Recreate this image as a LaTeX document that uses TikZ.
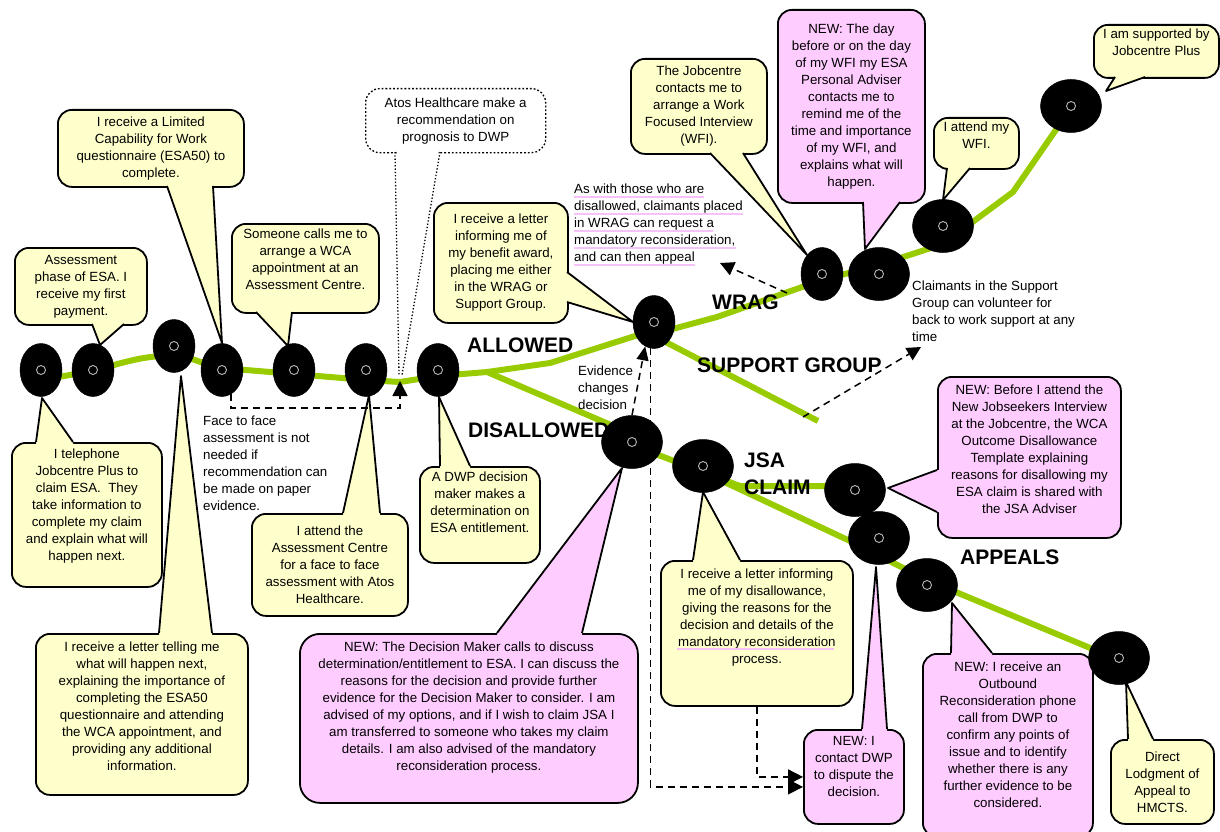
\documentclass[tikz,border=0pt]{standalone}
\usepackage{fontspec}
\setmainfont{Liberation Sans}
\usetikzlibrary{shapes.geometric,arrows.meta,calc}
\definecolor{cyel}{HTML}{FFFFCC}
\definecolor{cpink}{HTML}{FFCCFF}
\definecolor{cgreen}{HTML}{99CC00}
\definecolor{cul}{HTML}{F7C2F7}
\newcommand\vfix[1]{\\[#1pt]\mbox{}}
\newcommand\ptr[5]{%
  \fill[#1] ($#2+#5$) -- #2 -- #3 -- #4 -- ($#4+#5$) -- cycle;
  \draw[bord] #2 -- #3 -- #4;}
\tikzset{
  every node/.append style={font=\fontsize{13.3}{17}\selectfont},
  bord/.style={draw=black,line width=1.8pt,line join=round},
  cbox/.style={bord,rounded corners=14pt,align=center,inner sep=0pt,anchor=north west},
  ybox/.style={cbox,fill=cyel},
  pbox/.style={cbox,fill=cpink},
  dot/.style={ellipse,fill=black,draw=black,line width=0.5pt,minimum width=42pt,minimum height=53pt,inner sep=0pt},
  wdot/.style={dot,minimum width=61pt},
  ring/.style={draw=gray!55,line width=0.9pt},
  lane/.style={draw=cgreen,line width=6pt,line join=round},
  lab/.style={font=\fontsize{21}{24}\selectfont\bfseries,inner sep=0pt,anchor=west},
  note/.style={align=left,inner sep=0pt,anchor=north west},
  conn/.style={line width=1.5pt,dash pattern=on 7pt off 5pt,-{Triangle[length=15pt,width=15pt]}},
  uline/.style={draw=cul,line width=2pt}
}
\begin{document}
\begin{tikzpicture}[x=1pt,y=-1pt]
\useasboundingbox (0,0) rectangle (1220,832);

% ---- green lanes
\draw[lane] (41,380) -- (93,371) .. controls (130,360) and (150,355) .. (174,356)
  .. controls (195,357) and (205,366) .. (222,368) -- (294,374) -- (366,380) -- (400,382)
  -- (438,376) -- (487,372) -- (550,363) -- (654,330);
\draw[lane] (654,334) -- (717,317) -- (822,280) -- (879,265) -- (943,244) -- (1013,192) -- (1071,108);
\draw[lane] (654,336) -- (818,421);
\draw[lane] (487,372) -- (625,431) -- (640,448) -- (703,472);
\draw[lane] (703,472) -- (740,486) -- (855,486);
\draw[lane] (703,472) -- (850,541) -- (927,580) -- (1119,660);

% ---- stage labels
\node[lab] (lAllowed) at (467,345) {ALLOWED};
\node[lab] (lDis) at (468,430) {DISALLOWED};
\node[lab] (lWrag) at (712,302) {WRAG};
\node[lab] (lSup) at (697,365) {SUPPORT GROUP};
\node[lab] (lJsa) at (744,460) {JSA};
\node[lab] (lClaim) at (744,487) {CLAIM};
\node[lab] (lApp) at (960,557) {APPEALS};

% ---- free notes
\node[note] (nFace) at (203,416) {Face to face\\assessment is not\\needed if\\recommendation can\\be made on paper\\evidence.};
\draw[uline] (574,197) -- (704,197);
\draw[uline] (574,214) -- (743,214);
\draw[uline] (574,231) -- (713,231);
\draw[uline] (574,248) -- (736,248);
\draw[uline] (574,265) -- (695,265);
\node[note] (nWrag) at (574,184) {As with those who are\\disallowed, claimants placed\\in WRAG can request a\\mandatory reconsideration,\\and can then appeal};
\node[note] (nEvid) at (578,366) {Evidence\\changes\\decision};
\node[note] (nSupp) at (912,281) {Claimants in the Support\\Group can volunteer for\\back to work support at any\\time};

% ---- callouts
\node[ybox,minimum width=132pt,minimum height=77pt] (c1) at (14,247) {Assessment\\phase of ESA. I\\receive my first\\payment.};
\ptr{cyel}{(92,324)}{(100,345)}{(124,324)}{(0,-3)}

\node[ybox,minimum width=186pt,minimum height=77pt] (c2) at (57,109) {I receive a Limited\\Capability for Work\\questionnaire (ESA50) to\\complete.};
\ptr{cyel}{(167,186)}{(222,343)}{(213,186)}{(0,-3)}

\node[ybox,minimum width=147pt,minimum height=89pt] (c3) at (231,223) {Someone calls me to\\arrange a WCA\\appointment at an\\Assessment Centre.\vfix{0.5}};
\ptr{cyel}{(256,312)}{(288,346)}{(292,312)}{(0,-3)}

\node[cbox,draw=black,dotted,line width=1.3pt,fill=white,minimum width=180pt,minimum height=64pt] (c4) at (365,88) {Atos Healthcare make a\\recommendation on\\prognosis to DWP};
\fill[white] (397,149) rectangle (438,156);
\draw[dotted,line width=1.3pt] (395,152) -- (399,375);
\draw[dotted,line width=1.3pt] (440,152) -- (402,375);

\node[ybox,minimum width=134pt,minimum height=120pt] (c5) at (433,202) {I receive a letter\\informing me of\\my benefit award,\\placing me either\\in the WRAG or\\Support Group.};
\ptr{cyel}{(567,272)}{(633,322)}{(567,302)}{(-3,0)}

\node[ybox,minimum width=136pt,minimum height=95pt] (c6) at (630,58) {The Jobcentre\\contacts me to\\arrange a Work\\Focused Interview\\(WFI).};
\ptr{cyel}{(710,153)}{(807,255)}{(743,153)}{(0,-3)}

\node[pbox,minimum width=147pt,minimum height=193pt] (c7) at (777,9) {NEW: The day\\before or on the day\\of my WFI my ESA\\Personal Adviser\\contacts me to\\remind me of the\\time and importance\\of my WFI, and\\explains what will\\happen.};
\ptr{cpink}{(863,202)}{(865,249)}{(900,202)}{(0,-3)}

\node[ybox,minimum width=85pt,minimum height=51pt] (c8) at (933,117) {I attend my\\WFI.\vfix{-1.5}};
\ptr{cyel}{(947,168)}{(943,200)}{(970,168)}{(0,-3)}

\node[ybox,minimum width=125pt,minimum height=53pt] (c9) at (1093,24) {I am supported by\\Jobcentre Plus\vfix{0.5}};
\ptr{cyel}{(1115,77)}{(1106,91)}{(1145,77)}{(0,-3)}

\node[ybox,minimum width=150pt,minimum height=144pt] (c10) at (11,442) {I telephone\\Jobcentre Plus to\\claim ESA.\ \ They\\take information to\\complete my claim\\and explain what will\\happen next.\vfix{2.5}};
\ptr{cyel}{(36,442)}{(42,398)}{(73,442)}{(0,3)}

\node[ybox,minimum width=212pt,minimum height=161pt] (c11) at (35,633) {I receive a letter telling me\\what will happen next,\\explaining the importance of\\completing the ESA50\\questionnaire and attending\\the WCA appointment, and\\providing any additional\\information.\vfix{-1.5}};
\ptr{cyel}{(159,633)}{(181,376)}{(212,633)}{(0,3)}

\node[ybox,minimum width=156pt,minimum height=102pt] (c12) at (251,513) {I attend the\\Assessment Centre\\for a face to face\\assessment with Atos\\Healthcare.};
\ptr{cyel}{(343,513)}{(369,395)}{(380,513)}{(0,3)}

\node[ybox,minimum width=120pt,minimum height=96pt] (c13) at (419,466) {A DWP decision\\maker makes a\\determination on\\ESA entitlement.\vfix{8.5}};
\ptr{cyel}{(440,466)}{(439,397)}{(470,466)}{(0,3)}

\node[pbox,rounded corners=20pt,minimum width=338pt,minimum height=169pt] (c14) at (299,633) {NEW: The Decision Maker calls to discuss\\determination/entitlement to ESA. I can discuss the\\reasons for the decision and provide further\\evidence for the Decision Maker to consider. I am\\advised of my options, and if I wish to claim JSA I\\am transferred to someone who takes my claim\\details. I am also advised of the mandatory\\reconsideration process.\vfix{6.5}};
\ptr{cpink}{(497,633)}{(622,468)}{(582,633)}{(0,3)}

\node[ybox,minimum width=192pt,minimum height=145pt] (c15) at (660,560) {I receive a letter informing\\me of my disallowance,\\giving the reasons for the\\decision and details of the\\mandatory reconsideration\\process.\vfix{16.5}};
\ptr{cyel}{(693,560)}{(703,492)}{(740,560)}{(0,3)}
\draw[uline] (677,649) -- (834,649);

\node[pbox,minimum width=183pt,minimum height=161pt] (c16) at (937,376) {NEW: Before I attend the\\New Jobseekers Interview\\at the Jobcentre, the WCA\\Outcome Disallowance\\Template explaining\\reasons for disallowing my\\ESA claim is shared with\\the JSA Adviser\vfix{-1.5}};
\ptr{cpink}{(937,470)}{(888,488)}{(937,512)}{(3,0)}

\node[pbox,minimum width=100pt,minimum height=94pt] (c17) at (803,729) {NEW: I\\contact DWP\\to dispute the\\decision.\vfix{4.5}};
\ptr{cpink}{(862,729)}{(876,567)}{(887,729)}{(0,3)}

\node[pbox,minimum width=170pt,minimum height=183pt] (c18) at (922,653) {NEW: I receive an\\Outbound\\Reconsideration phone\\call from DWP to\\confirm any points of\\issue and to identify\\whether there is any\\further evidence to be\\considered.\vfix{4.5}};
\ptr{cpink}{(951,653)}{(952,603)}{(992,653)}{(0,3)}

\node[ybox,minimum width=103pt,minimum height=84pt] (c19) at (1110,739) {Direct\\Lodgment of\\Appeal to\\HMCTS.};
\ptr{cyel}{(1128,739)}{(1126,682)}{(1153,739)}{(0,3)}

% ---- stage points
\node[dot] (e1) at (41,370) {};
\node[dot] (e2) at (93,370) {};
\node[dot] (e3) at (174,346) {};
\node[dot] (e4) at (222,370) {};
\node[dot] (e5) at (294,370) {};
\node[dot] (e6) at (366,370) {};
\node[dot] (e7) at (438,370) {};
\node[dot] (e8) at (654,322) {};
\node[dot] (e9) at (822,274) {};
\node[wdot] (e10) at (879,274) {};
\node[wdot] (e11) at (943,226) {};
\node[wdot] (e12) at (1071,106) {};
\node[wdot] (e13) at (632,442) {};
\node[wdot] (e14) at (703,466) {};
\node[wdot] (e15) at (855,490) {};
\node[wdot] (e16) at (879,538) {};
\node[wdot] (e17) at (927,585) {};
\node[wdot] (e18) at (1119,658) {};
\foreach \n in {e1,e2,e3,e4,e5,e6,e7,e8,e9,e10,e11,e12,e13,e14,e15,e16,e17,e18}
  \draw[ring] (\n.center) circle[radius=4.5pt];

% ---- dashed connectors
\coordinate (fA) at (400,408);
\coordinate (fTip) at (400,381);
\draw[conn] (e4.290) |- (fA) -- (fTip);
\coordinate (wS) at (787,293);
\coordinate (wT) at (720,263);
\draw[conn,-{Triangle[length=14pt,width=14pt]}] (wS) -- (wT);
\coordinate (sS) at (803,417);
\coordinate (sT) at (921,347);
\draw[conn,-{Triangle[length=14pt,width=14pt]}] (sS) -- (sT);
\draw[conn,-{Triangle[length=14pt,width=12pt]}] (e13.north) -- (e8.250);
\draw[conn] (e8.262) |- ([yshift=-10pt]c17.west);
\draw[conn] (c15.south) |- (c17.west);
\end{tikzpicture}
\end{document}
